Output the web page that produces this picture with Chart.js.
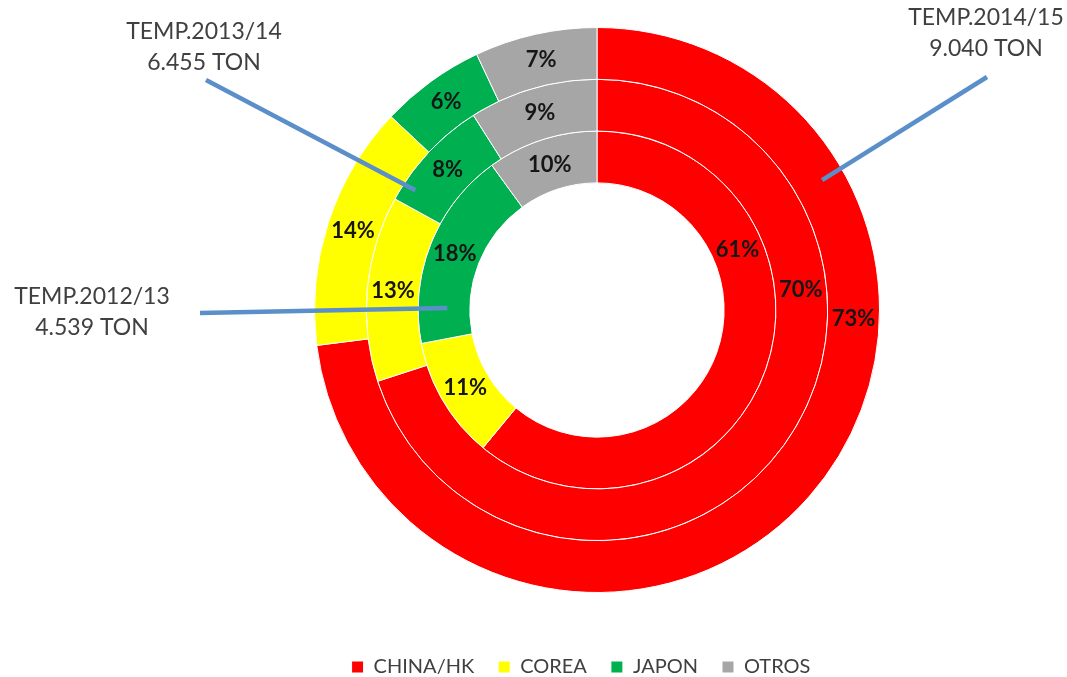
<!DOCTYPE html>
<html lang="es">
<head>
<meta charset="utf-8">
<title>Destinos por temporada</title>
<script src="https://cdn.jsdelivr.net/npm/chart.js@4.4.1/dist/chart.umd.min.js"></script>
<style>
  html, body { margin: 0; padding: 0; background: #fff; }
  #contenedor { width: 1067px; height: 677px; position: relative; }
</style>
</head>
<body>
<div id="contenedor"><canvas id="grafica"></canvas></div>
<script>
// Datos: % por destino en cada temporada (anillo exterior = 2014/15)
const categorias = ["CHINA/HK", "COREA", "JAPON", "OTROS"];
const temp1415 = [73, 14, 6, 7];
const temp1314 = [70, 13, 8, 9];
const temp1213 = [61, 11, 18, 10];
const temporadas = ["TEMP.2014/15", "TEMP.2013/14", "TEMP.2012/13"];
const toneladas = ["9.040 TON", "6.455 TON", "4.539 TON"];

const colores = ["#FF0000", "#FFFF00", "#00B050", "#A6A6A6"];
const fuente = "Lato, 'Open Sans', sans-serif";

// Rotulos de temporada: texto, inicio de la linea guia y punto de anclaje en el anillo
const rotulos = [
  { texto: [temporadas[0], toneladas[0]], x: 986, y: 18, desde: [987, 77], angulo: 60, radio: 0.92 },
  { texto: [temporadas[1], toneladas[1]], x: 204, y: 32, desde: [206, 80], angulo: 303.4, radio: 0.77 },
  { texto: [temporadas[2], toneladas[2]], x: 92, y: 297, desde: [200, 313], angulo: 270.8, radio: 0.53 },
];

// Excel coloca la etiqueta de CHINA/HK antes de la mitad del arco
const fraccionChina = [0.35, 0.335, 0.304];

const pluginEtiquetas = {
  id: "etiquetas",
  afterLayout(chart) {
    // mover la leyenda a su sitio (un poco a la izquierda y mas abajo)
    const ley = chart.legend;
    const dx = -16;
    const dy = 667 - (ley.top + 24 + 10);
    ley.left += dx; ley.right += dx;
    ley.top += dy; ley.bottom += dy;
  },
  afterDatasetsDraw(chart) {
    const ctx = chart.ctx;
    const arco0 = chart.getDatasetMeta(0).data[0];
    const cx = arco0.x, cy = arco0.y, rMax = arco0.outerRadius;

    ctx.save();
    // lineas guia + texto de temporada
    rotulos.forEach(r => {
      const a = r.angulo * Math.PI / 180;
      const ex = cx + Math.sin(a) * r.radio * rMax;
      const ey = cy - Math.cos(a) * r.radio * rMax;
      ctx.strokeStyle = "#5B8FC9";
      ctx.lineWidth = 4.5;
      ctx.lineCap = "butt";
      ctx.beginPath();
      ctx.moveTo(r.desde[0], r.desde[1]);
      ctx.lineTo(ex, ey);
      ctx.stroke();

      ctx.fillStyle = "#404040";
      ctx.font = "23px " + fuente;
      ctx.textAlign = "center";
      ctx.textBaseline = "middle";
      r.texto.forEach((t, k) => ctx.fillText(t, r.x, r.y + k * 31));
    });

    // porcentajes dentro de cada segmento
    ctx.font = "bold 22px " + fuente;
    ctx.fillStyle = "#161616";
    chart.data.datasets.forEach((ds, i) => {
      chart.getDatasetMeta(i).data.forEach((arco, j) => {
        const p = arco.getProps(["x", "y", "startAngle", "endAngle", "innerRadius", "outerRadius"], true);
        const f = j === 0 ? fraccionChina[i] : 0.5;
        const ang = p.startAngle + (p.endAngle - p.startAngle) * f;
        const rr = (p.innerRadius + p.outerRadius) / 2;
        ctx.fillText(ds.data[j] + "%", p.x + Math.cos(ang) * rr, p.y + Math.sin(ang) * rr);
      });
    });
    ctx.restore();
  }
};

const ctx = document.getElementById("grafica").getContext("2d");
new Chart(ctx, {
  type: "doughnut",
  data: {
    labels: categorias,
    datasets: [
      { label: temporadas[0], data: temp1415 },
      { label: temporadas[1], data: temp1314 },
      { label: temporadas[2], data: temp1213 },
    ].map(d => ({ ...d, backgroundColor: colores, borderColor: "#FFFFFF", borderWidth: 1 })),
  },
  options: {
    responsive: true,
    maintainAspectRatio: false,
    animation: false,
    cutout: "45%",
    layout: { padding: { top: 27, bottom: 30, left: 140, right: 13 } },
    plugins: {
      tooltip: { enabled: false },
      legend: {
        position: "bottom",
        labels: {
          boxWidth: 12,
          boxHeight: 12,
          padding: 24,
          color: "#404040",
          font: { family: fuente, size: 20 },
        },
      },
    },
  },
  plugins: [pluginEtiquetas],
});
</script>
</body>
</html>
